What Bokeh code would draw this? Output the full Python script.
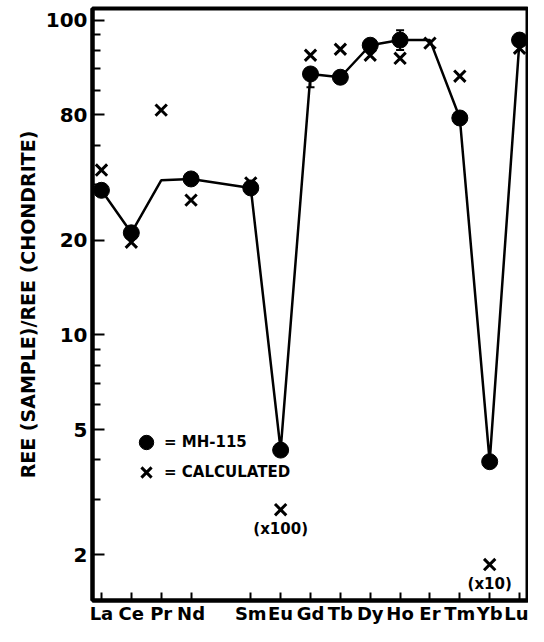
from bokeh.plotting import figure
from bokeh.models import FixedTicker, Legend, LegendItem, Label, ColumnDataSource, Whisker, TeeHead, Range1d
from bokeh.embed import file_html
from bokeh.resources import INLINE

# Element order along the x axis (Pm has no data and no tick)
elements = ["La", "Ce", "Pr", "Nd", "Pm", "Sm", "Eu", "Gd", "Tb", "Dy", "Ho", "Er", "Tm", "Yb", "Lu"]
tick_labels = ["La", "Ce", "Pr", "Nd", "Sm", "Eu", "Gd", "Tb", "Dy", "Ho", "Er", "Tm", "Yb", "Lu"]

# MH-115 measured values (filled circles)
mh_elements = ["La", "Ce", "Nd", "Sm", "Eu", "Gd", "Tb", "Dy", "Ho", "Tm", "Yb", "Lu"]
mh_values = [28.8, 21.1, 31.3, 29.3, 4.3, 67.5, 65.9, 83.3, 86.5, 48.9, 3.95, 86.5]

# connecting line as drawn
line_elements = ["La", "Ce", "Pr", "Nd", "Sm", "Eu", "Gd", "Tb", "Dy", "Ho", "Er", "Tm", "Yb", "Lu"]
line_values = [28.8, 21.1, 31.0, 31.3, 29.3, 4.3, 67.5, 65.9, 83.3, 86.5, 86.5, 48.9, 3.95, 86.5]

# calculated values (crosses)
calc_elements = ["La", "Ce", "Pr", "Nd", "Sm", "Eu", "Gd", "Tb", "Dy", "Ho", "Er", "Tm", "Yb", "Lu"]
calc_values = [33.4, 19.7, 51.8, 26.8, 30.4, 2.78, 77.4, 80.9, 77.4, 75.7, 84.6, 66.4, 1.86, 81.5]

# error bars
err_elements = ["Gd", "Ho"]
err_lower = [61.3, 80.4]
err_upper = [70.0, 92.9]

# y ticks
y_major = [2, 5, 10, 20, 50, 100]
y_labels = ["2", "5", "10", "20", "80", "100"]
y_minor = [3, 4, 6, 7, 8, 9, 30, 40, 60, 70, 80, 90]

pos = {e: i for i, e in enumerate(elements)}

FONT = "DejaVu Sans"

p = figure(width=528, height=626, y_axis_type="log",
           x_range=Range1d(-0.3, 14.3), y_range=Range1d(1.43, 109),
           output_backend="svg", toolbar_location=None,
           min_border_left=92, min_border_right=0, min_border_top=8, min_border_bottom=23)
p.grid.visible = False
p.outline_line_color = "black"
p.outline_line_width = 4

# x axis
xticks = [pos[e] for e in tick_labels]
p.xaxis.ticker = FixedTicker(ticks=xticks, minor_ticks=[])
p.xaxis.major_label_overrides = {pos[e]: e for e in tick_labels}
p.xaxis.major_tick_in = 8
p.xaxis.major_tick_out = 0
p.xaxis.major_tick_line_width = 2
p.xaxis.minor_tick_line_color = None
p.xaxis.axis_line_width = 4
p.xaxis.major_label_text_font = FONT
p.xaxis.major_label_text_font_size = "18px"
p.xaxis.major_label_text_font_style = "bold"
p.xaxis.major_label_text_color = "black"
p.xaxis.major_label_standoff = 2

# y axis
p.yaxis.ticker = FixedTicker(ticks=y_major, minor_ticks=y_minor)
p.yaxis.major_label_overrides = {t: l for t, l in zip(y_major, y_labels)}
p.yaxis.major_tick_in = 12
p.yaxis.major_tick_out = 0
p.yaxis.minor_tick_in = 8
p.yaxis.minor_tick_out = 0
p.yaxis.major_tick_line_width = 2
p.yaxis.minor_tick_line_width = 2
p.yaxis.axis_line_width = 4
p.yaxis.major_label_text_font = FONT
p.yaxis.major_label_text_font_size = "20px"
p.yaxis.major_label_text_font_style = "bold"
p.yaxis.major_label_text_color = "black"
p.yaxis.major_label_standoff = 5
p.yaxis.axis_label = "REE (SAMPLE)/REE (CHONDRITE)"
p.yaxis.axis_label_text_font = FONT
p.yaxis.axis_label_text_font_size = "19px"
p.yaxis.axis_label_text_font_style = "bold"
p.yaxis.axis_label_text_color = "black"
p.yaxis.axis_label_standoff = 4

# line
p.line([pos[e] for e in line_elements], line_values, line_color="black", line_width=2.5)

# error bars
esrc = ColumnDataSource(dict(x=[pos[e] for e in err_elements], lo=err_lower, hi=err_upper))
p.add_layout(Whisker(source=esrc, base="x", lower="lo", upper="hi", line_width=2,
                     upper_head=TeeHead(size=8, line_width=2), lower_head=TeeHead(size=8, line_width=2)))

# markers
r_mh = p.scatter([pos[e] for e in mh_elements], mh_values, marker="circle", size=16,
                 fill_color="black", line_color="black")
r_calc = p.scatter([pos[e] for e in calc_elements], calc_values, marker="x", size=16,
                   line_color="black", line_width=3)

# annotations
for el, txt in [("Eu", "(x100)"), ("Yb", "(x10)")]:
    p.add_layout(Label(x=pos[el], y=calc_values[calc_elements.index(el)], text=txt,
                       text_align="center", text_baseline="top", y_offset=-10,
                       text_color="black",
                       text_font=FONT, text_font_size="15px", text_font_style="bold"))

legend_style = dict(glyph_width=36, glyph_height=36, padding=0, margin=0,
                    border_line_color=None, background_fill_alpha=0,
                    label_text_font=FONT, label_text_font_size="15px",
                    label_text_font_style="bold", label_text_color="black",
                    label_standoff=0)
leg1 = Legend(items=[LegendItem(label="= MH-115", renderers=[r_mh])],
              location=(36, 140), **legend_style)
leg2 = Legend(items=[LegendItem(label="= CALCULATED", renderers=[r_calc])],
              location=(36, 110), **legend_style)
p.add_layout(leg1, "center")
p.add_layout(leg2, "center")

open("out.html", "w").write(file_html(p, INLINE))
